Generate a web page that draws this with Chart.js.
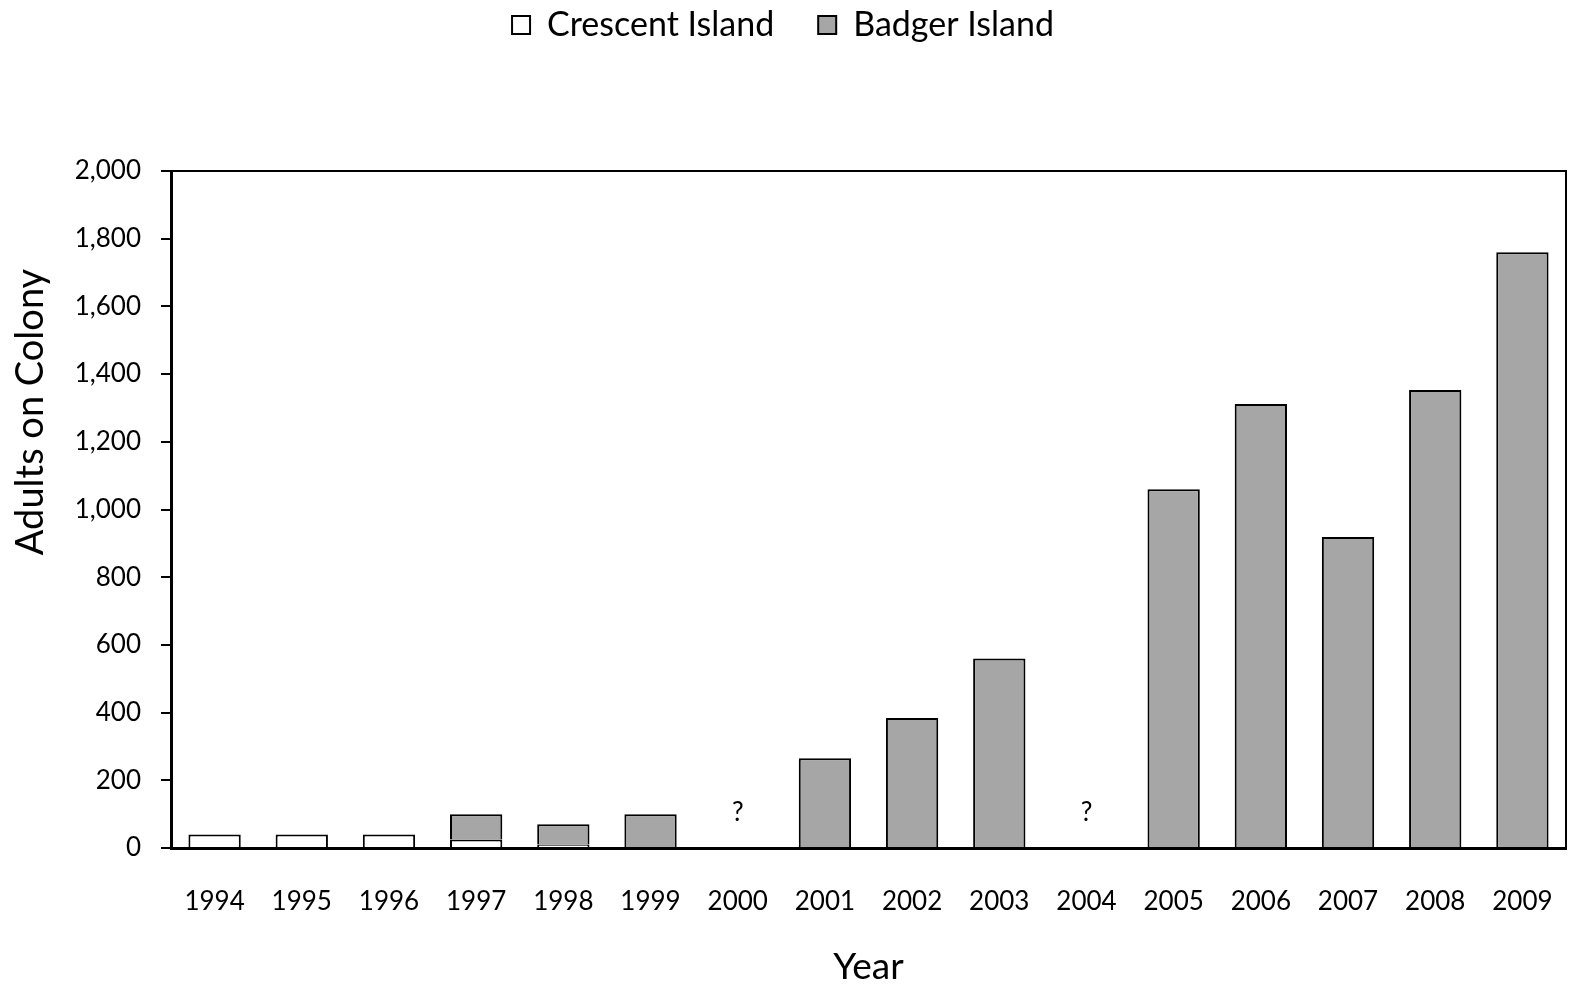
<!DOCTYPE html>
<html><head><meta charset="utf-8">
<script src="https://cdn.jsdelivr.net/npm/chart.js@4"></script>
<style>html,body{margin:0;padding:0;background:#fff}#wrap{width:1572px;height:985px}</style>
</head><body><div id="wrap"><canvas id="c" width="1572" height="985"></canvas></div>
<script>
const years = ['1994','1995','1996','1997','1998','1999','2000','2001','2002','2003','2004','2005','2006','2007','2008','2009'];
const crescent = [40, 40, 40, 25, 10, null, null, null, null, null, null, null, null, null, null, null];
const badger = [null, null, null, 75, 60, 100, null, 265, 384, 560, null, 1060, 1312, 919, 1353, 1760];
const unknownYears = ['2000', '2004'];
const unknownLabelValue = 105;
const yTicks = [0, 200, 400, 600, 800, 1000, 1200, 1400, 1600, 1800, 2000];
const yTitle = 'Adults on Colony';

const FONT = 'Lato, "Open Sans", sans-serif';

const boxPlugin = {
  id: 'box',
  afterDatasetsDraw(chart) {
    const {ctx, chartArea: a, scales} = chart;
    ctx.save();
    ctx.strokeStyle = '#000'; ctx.lineWidth = 2;
    ctx.strokeRect(a.left, a.top, a.right - a.left, a.bottom - a.top);
    ctx.fillStyle = '#000';
    ctx.font = '26px ' + FONT;
    ctx.textAlign = 'center'; ctx.textBaseline = 'middle';
    unknownYears.forEach(y => {
      const i = years.indexOf(y);
      ctx.fillText('?', scales.x.getPixelForValue(i), scales.y.getPixelForValue(unknownLabelValue));
    });
    ctx.font = '38px ' + FONT;
    ctx.translate(31, 412);
    ctx.rotate(-Math.PI / 2);
    ctx.fillText(yTitle, 0, 0);
    ctx.restore();
  }
};

new Chart(document.getElementById('c'), {
  type: 'bar',
  data: {
    labels: years,
    datasets: [
      {label: 'Crescent Island', data: crescent, backgroundColor: '#ffffff', borderColor: '#000', borderWidth: 2, borderSkipped: 'start', barPercentage: 0.6, categoryPercentage: 1},
      {label: 'Badger Island', data: badger, backgroundColor: '#a6a6a6', borderColor: '#000', borderWidth: 2, borderSkipped: 'start', barPercentage: 0.6, categoryPercentage: 1}
    ]
  },
  options: {
    responsive: false, animation: false,
    layout: {padding: {top: -36, right: 6, left: 0, bottom: 0}},
    plugins: {
      legend: {
        position: 'top',
        labels: {color: '#000', font: {family: FONT, size: 34}, boxWidth: 18, boxHeight: 18, padding: 44}
      },
      tooltip: {enabled: false}
    },
    scales: {
      x: {
        stacked: true,
        grid: {display: false, drawTicks: false},
        border: {display: true, color: '#000', width: 3},
        ticks: {color: '#000', font: {family: FONT, size: 26}, padding: 38},
        title: {display: true, text: 'Year', color: '#000', font: {family: FONT, size: 37}, padding: {top: 30, bottom: -4}},
        afterFit(s) { s.height = 137; s.paddingLeft = 0; s.paddingRight = 0; }
      },
      y: {
        stacked: true, min: 0, max: 2000,
        afterBuildTicks(s) { s.ticks = yTicks.map(v => ({value: v})); },
        grid: {drawOnChartArea: false, drawTicks: true, tickLength: 10, color: '#000', lineWidth: 2},
        border: {display: true, color: '#000', width: 3},
        ticks: {color: '#000', font: {family: FONT, size: 26}, padding: 20, callback: v => v.toLocaleString('en-US')},
        title: {display: false},
        afterFit(s) { s.width = 171; }
      }
    }
  },
  plugins: [boxPlugin, {
    id: 'legendGap',
    afterInit(chart) {
      const lg = chart.legend;
      const fit = lg.fit;
      lg.fit = function() { fit.call(this); this.height = 207; };
    }
  }]
});
</script></body></html>
